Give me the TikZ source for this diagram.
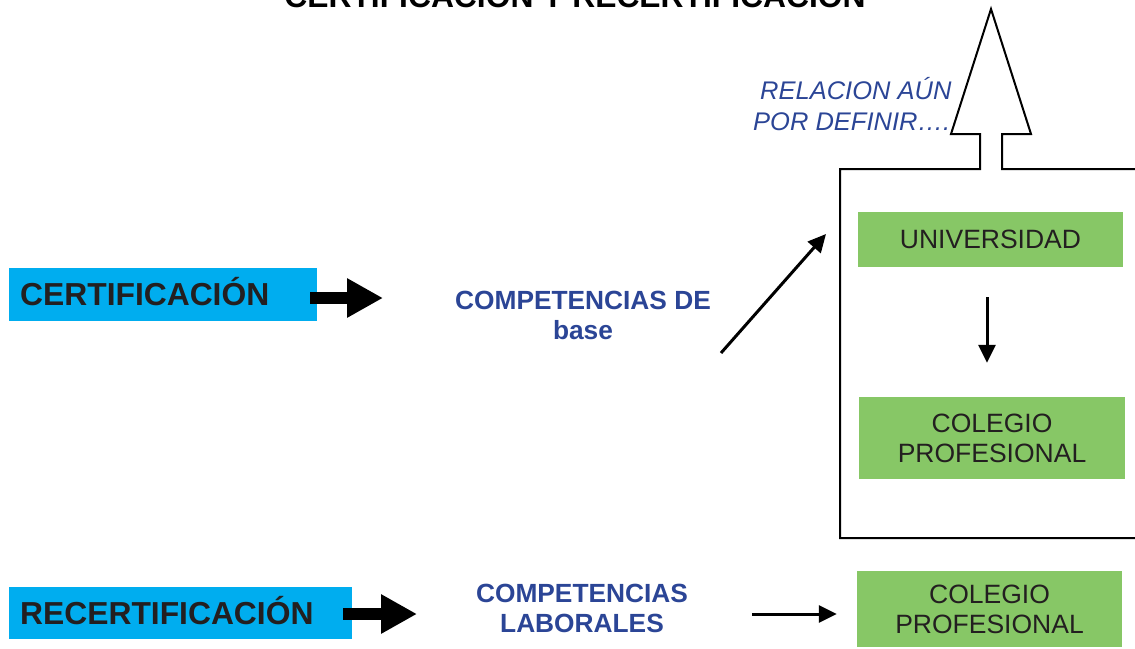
\documentclass[tikz,border=0pt]{standalone}
\usepackage{fontspec}
\setmainfont{Liberation Sans}
\usetikzlibrary{arrows.meta,
  positioning
}
\definecolor{certblue}{RGB}{0,173,239}
\definecolor{textblue}{RGB}{43,69,150}
\definecolor{boxgreen}{RGB}{135,199,102}
\definecolor{darktext}{RGB}{35,31,32}
\tikzstyle{labelbox} = [fill=certblue, text=darktext,
  font=\fontsize{31.8}{36}\selectfont\bfseries, text height=22.5pt,
  text depth=0pt, inner xsep=11pt, align=left, anchor=north west,
  minimum height=53pt]
\tikzstyle{greenbox} = [fill=boxgreen, text=darktext,
  font=\fontsize{26.5}{30}\selectfont, align=center, inner sep=0pt]
\tikzstyle{bluetext} = [text=textblue,
  font=\fontsize{26.3}{30}\selectfont\bfseries, align=center, inner sep=0pt]
\tikzstyle{fatarrow} = [line width=12pt, -{Triangle[length=36pt,width=37pt]}]
\tikzstyle{thinarrow} = [line width=3pt, -{Triangle[length=18pt,width=17pt]}]

\begin{document}
\begin{tikzpicture}[x=1pt, y=-1pt]
  \useasboundingbox (0,0) rectangle (1135,648);
  \clip (0,0) rectangle (1135,648);

  % title (cut at the top)
  \node[anchor=base, font=\fontsize{31.8}{36}\selectfont\bfseries] (title) at (575,7)
  {CERTIFICACIÓN Y RECERTIFICACIÓN};

  % left labels
  \node[labelbox, text width=286pt] (cert) at (9,268) {CERTIFICACIÓN};
  \node[labelbox, text width=321pt, minimum height=52pt] (recert) at (9,587) {RECERTIFICACIÓN};

  % competencias
  \node[bluetext, anchor=base] (compbase) at (583,339) {COMPETENCIAS DE\\base};
  \node[bluetext, anchor=base] (complab) at (582,632) {COMPETENCIAS\\LABORALES};

  % green boxes
  \node[greenbox, minimum width=265pt, minimum height=55pt] (univ) at (990.5,239.5) {UNIVERSIDAD};
  \node[greenbox, minimum width=266pt, minimum height=82pt] (colegio) at (992,438) {COLEGIO\\PROFESIONAL};
  \node[greenbox, minimum width=265pt, minimum height=76pt] (colegio2) at (989.5,609) {COLEGIO\\PROFESIONAL};

  % big frame with the hollow arrow
  \coordinate (bigbox) at (840,169);
  \draw[line width=2pt] (1140,169) -- (1002,169) -- (1002,134) -- (1031,134)
  -- (991,9) -- (951,134) -- (980,134) -- (980,169) -- (bigbox)
  -- (840,538) -- (1140,538);
  \node[text=textblue, font=\fontsize{25.5}{31}\selectfont\itshape, align=left,
  anchor=base west, inner sep=0pt] (relacion) at (753,130)
  {\hspace*{7pt}RELACION AÚN\\POR DEFINIR….};

  % fat arrows
  \coordinate (certout) at (310,298);
  \coordinate (certin) at (383,298);
  \draw[fatarrow] (certout) -- (certin);
  \coordinate (recertout) at (343,614);
  \coordinate (recertin) at (417,614);
  \draw[fatarrow] (recertout) -- (recertin);

  % thin arrows
  \coordinate (diagstart) at (721,353);
  \draw[thinarrow] (diagstart) -- ([xshift=-14pt,yshift=-65pt]bigbox);
  \draw[thinarrow] ([xshift=-3.5pt,yshift=-30pt]univ.south)
  -- ([xshift=-3.5pt,yshift=34pt]univ.south |- colegio.north);
  \draw[thinarrow] ([xshift=-105pt,yshift=-5pt]colegio2.west)
  -- ([xshift=-20pt,yshift=-5pt]colegio2.west);
\end{tikzpicture}
\end{document}
